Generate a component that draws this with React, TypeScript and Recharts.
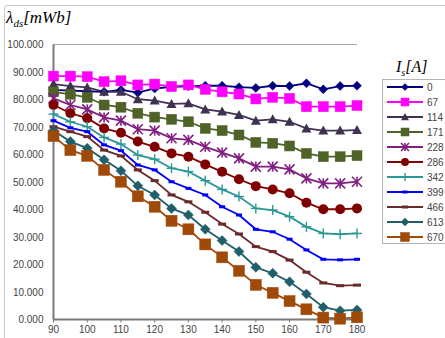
import React from 'react';
import { LineChart, Line, XAxis, YAxis, CartesianGrid, Legend } from 'recharts';

const xValues = [90, 95, 100, 105, 110, 115, 120, 125, 130, 135, 140, 145, 150, 155, 160, 165, 170, 175, 180];
const yTicks = [0, 10, 20, 30, 40, 50, 60, 70, 80, 90, 100];
const xTicks = [90, 100, 110, 120, 130, 140, 150, 160, 170, 180];

const s0 = [83.5, 83.2, 83.0, 82.8, 83.5, 82.5, 84.0, 84.6, 84.8, 85.0, 85.0, 84.5, 84.2, 85.0, 84.9, 85.9, 83.7, 84.9, 85.0];
const s67 = [88.5, 88.5, 88.3, 86.5, 86.8, 85.3, 85.6, 84.7, 85.3, 83.7, 82.8, 82.0, 80.2, 80.8, 80.4, 77.4, 77.4, 77.4, 77.8];
const s114 = [85.6, 84.9, 84.4, 82.8, 82.8, 80.1, 79.6, 78.4, 78.6, 76.4, 75.6, 74.4, 72.3, 72.8, 71.9, 69.5, 68.7, 68.7, 68.9];
const s171 = [82.8, 81.9, 80.8, 78.0, 77.2, 75.0, 73.6, 72.8, 71.9, 69.5, 68.7, 67.1, 64.4, 64.1, 63.1, 60.4, 59.2, 59.2, 59.6];
const s228 = [80.4, 78.0, 76.4, 73.5, 72.3, 69.2, 68.7, 65.9, 65.3, 62.8, 60.7, 58.6, 55.6, 55.6, 54.6, 51.3, 49.5, 49.5, 50.1];
const s286 = [78.0, 75.0, 73.2, 69.5, 67.9, 64.7, 62.8, 60.4, 59.2, 56.4, 53.7, 51.0, 48.5, 47.3, 45.9, 42.5, 40.1, 40.1, 40.4];
const s342 = [74.7, 71.9, 70.1, 66.2, 63.8, 59.8, 58.3, 55.0, 53.8, 50.5, 47.3, 44.7, 40.4, 39.8, 37.4, 33.7, 31.3, 31.0, 31.3];
const s399 = [72.3, 69.7, 68.3, 63.5, 61.4, 56.2, 54.4, 50.1, 47.7, 45.3, 41.0, 38.0, 32.8, 31.9, 29.2, 25.3, 21.9, 21.7, 21.9];
const s466 = [70.1, 68.3, 66.5, 61.6, 59.5, 54.4, 50.5, 45.3, 42.8, 39.0, 34.7, 31.1, 26.5, 24.7, 21.6, 17.2, 13.3, 12.3, 12.5];
const s613 = [68.7, 64.7, 62.3, 58.1, 54.1, 48.6, 45.3, 40.4, 38.0, 32.8, 28.7, 24.7, 19.0, 16.8, 13.7, 9.3, 4.5, 3.2, 3.5];
const s670 = [66.7, 61.6, 59.5, 54.4, 50.1, 44.8, 41.0, 35.9, 32.8, 27.3, 22.6, 17.7, 12.6, 9.7, 6.7, 3.7, 0.7, 0.3, 0.8];

type Shape = 'diamond' | 'square' | 'triangle' | 'circle' | 'star' | 'plus' | 'dash';

const seriesDefs: { key: string; name: string; values: number[]; color: string; shape: Shape; size: number; width: number }[] = [
  { key: 's0', name: '0', values: s0, color: '#000080', shape: 'diamond', size: 9, width: 1.8 },
  { key: 's67', name: '67', values: s67, color: '#FF00FF', shape: 'square', size: 10, width: 1.8 },
  { key: 's114', name: '114', values: s114, color: '#403152', shape: 'triangle', size: 10, width: 1.8 },
  { key: 's171', name: '171', values: s171, color: '#4F6228', shape: 'square', size: 10, width: 1.8 },
  { key: 's228', name: '228', values: s228, color: '#7F1F7F', shape: 'star', size: 10, width: 1.8 },
  { key: 's286', name: '286', values: s286, color: '#800000', shape: 'circle', size: 10, width: 1.8 },
  { key: 's342', name: '342', values: s342, color: '#2A9896', shape: 'plus', size: 10, width: 1.8 },
  { key: 's399', name: '399', values: s399, color: '#0000FF', shape: 'dash', size: 6, width: 1.8 },
  { key: 's466', name: '466', values: s466, color: '#6B2A2A', shape: 'dash', size: 8, width: 1.8 },
  { key: 's613', name: '613', values: s613, color: '#215E6B', shape: 'diamond', size: 10, width: 1.8 },
  { key: 's670', name: '670', values: s670, color: '#A04A0A', shape: 'square', size: 11, width: 1.8 },
];

const data = xValues.map((x, i) => {
  const row: Record<string, number> = { x };
  seriesDefs.forEach((s) => {
    row[s.key] = s.values[i];
  });
  return row;
});

function Marker({ shape, cx, cy, color, size }: { shape: Shape; cx: number; cy: number; color: string; size: number }) {
  const h = size / 2;
  switch (shape) {
    case 'diamond':
      return <polygon points={`${cx},${cy - h} ${cx + h},${cy} ${cx},${cy + h} ${cx - h},${cy}`} fill={color} stroke={color} strokeWidth={0.5} />;
    case 'square':
      return <rect x={cx - h} y={cy - h} width={size} height={size} fill={color} stroke={color} strokeWidth={0.5} />;
    case 'triangle':
      return <polygon points={`${cx},${cy - h} ${cx + h},${cy + h * 0.8} ${cx - h},${cy + h * 0.8}`} fill={color} />;
    case 'circle':
      return <circle cx={cx} cy={cy} r={h} fill={color} />;
    case 'star':
      return (
        <g stroke={color} strokeWidth={1.6}>
          <line x1={cx - h} y1={cy - h} x2={cx + h} y2={cy + h} />
          <line x1={cx - h} y1={cy + h} x2={cx + h} y2={cy - h} />
          <line x1={cx} y1={cy - h} x2={cx} y2={cy + h} />
        </g>
      );
    case 'plus':
      return (
        <g stroke={color} strokeWidth={1.4}>
          <line x1={cx - h} y1={cy} x2={cx + h} y2={cy} />
          <line x1={cx} y1={cy - h} x2={cx} y2={cy + h} />
        </g>
      );
    case 'dash':
      return <rect x={cx - h} y={cy - 1.5} width={size} height={3} fill={color} />;
    default:
      return null;
  }
}

const makeDot = (shape: Shape, color: string, size: number) => (props: any) => {
  const { cx, cy, index } = props;
  if (cx == null || cy == null) return <g key={`d-${index}`} />;
  return (
    <g key={`d-${index}`}>
      <Marker shape={shape} cx={cx} cy={cy} color={color} size={size} />
    </g>
  );
};

const LegendBox = () => (
  <svg width={70} height={170} style={{ display: 'block', overflow: 'visible' }}>
    <rect x={0.5} y={0.5} width={80} height={164} fill="#ffffff" stroke="#b4b4b4" strokeWidth={1} />
    {seriesDefs.map((s, i) => {
      const y = 8 + i * 15;
      return (
        <g key={s.key}>
          <line x1={5} y1={y} x2={41} y2={y} stroke={s.color} strokeWidth={2} />
          <Marker shape={s.shape} cx={23} cy={y} color={s.color} size={Math.max(5, s.size - 2)} />
          <text x={45} y={y + 3.5} fontSize={10} fill="#444" fontFamily="'Liberation Sans', Arial, sans-serif">
            {s.name}
          </text>
        </g>
      );
    })}
  </svg>
);

export default function App() {
  return (
    <div style={{ position: 'absolute', left: 0, top: 0, width: 445, height: 338, background: '#fff', overflow: 'hidden' }}>
      <div style={{ position: 'absolute', left: 4, top: 5, width: 460, height: 360, border: '1px solid #c8c8c8', borderRadius: 3 }} />
      <div
        style={{
          position: 'absolute',
          left: 6,
          top: 8,
          fontFamily: "'Liberation Serif', 'Times New Roman', serif",
          fontStyle: 'italic',
          fontSize: 17,
          color: '#000',
          whiteSpace: 'nowrap',
        }}
      >
        λ<sub style={{ fontSize: 11 }}>ds</sub>[<span>mWb</span>]
      </div>
      <div
        style={{
          position: 'absolute',
          left: 396,
          top: 58,
          fontFamily: "'Liberation Serif', 'Times New Roman', serif",
          fontStyle: 'italic',
          fontSize: 16,
          color: '#000',
          whiteSpace: 'nowrap',
        }}
      >
        I<sub style={{ fontSize: 10 }}>s</sub>[A]
      </div>
      <LineChart width={445} height={338} data={data} margin={{ top: 44.5, right: 88, left: 0, bottom: 0 }}>
        <CartesianGrid horizontal vertical={false} stroke="#a6a6a6" strokeWidth={1} />
        <XAxis
          dataKey="x"
          type="number"
          domain={[90, 180]}
          ticks={xTicks}
          height={18.5}
          tickSize={3}
          tickMargin={3}
          tick={{ fontSize: 10, fill: '#444', fontFamily: "'Liberation Sans', Arial, sans-serif" }}
          axisLine={{ stroke: '#7a7a7a', strokeWidth: 2 }}
          tickLine={{ stroke: '#7a7a7a' }}
          interval={0}
        />
        <YAxis
          yAxisId="left"
          type="number"
          domain={[0, 100]}
          ticks={yTicks}
          width={53.5}
          tickFormatter={(v: number) => v.toFixed(3)}
          tickLine={false}
          tickSize={0}
          tickMargin={10}
          tick={{ fontSize: 10, fill: '#444', fontFamily: "'Liberation Sans', Arial, sans-serif" }}
          axisLine={{ stroke: '#7a7a7a', strokeWidth: 2 }}
          interval={0}
        />
        <YAxis
          yAxisId="right"
          orientation="right"
          type="number"
          domain={[0, 100]}
          width={0}
          tick={false}
          tickLine={false}
          axisLine={{ stroke: '#9a9a9a', strokeWidth: 2 }}
        />
        <Legend
          layout="vertical"
          align="center"
          verticalAlign="middle"
          content={() => <LegendBox />}
          wrapperStyle={{ position: 'absolute', left: 382, top: 79, width: 70, height: 170 }}
        />
        {seriesDefs.map((s) => (
          <Line
            key={s.key}
            yAxisId="left"
            type="linear"
            dataKey={s.key}
            name={s.name}
            stroke={s.color}
            strokeWidth={s.width}
            dot={makeDot(s.shape, s.color, s.size)}
            activeDot={false}
            isAnimationActive={false}
          />
        ))}
      </LineChart>
    </div>
  );
}
